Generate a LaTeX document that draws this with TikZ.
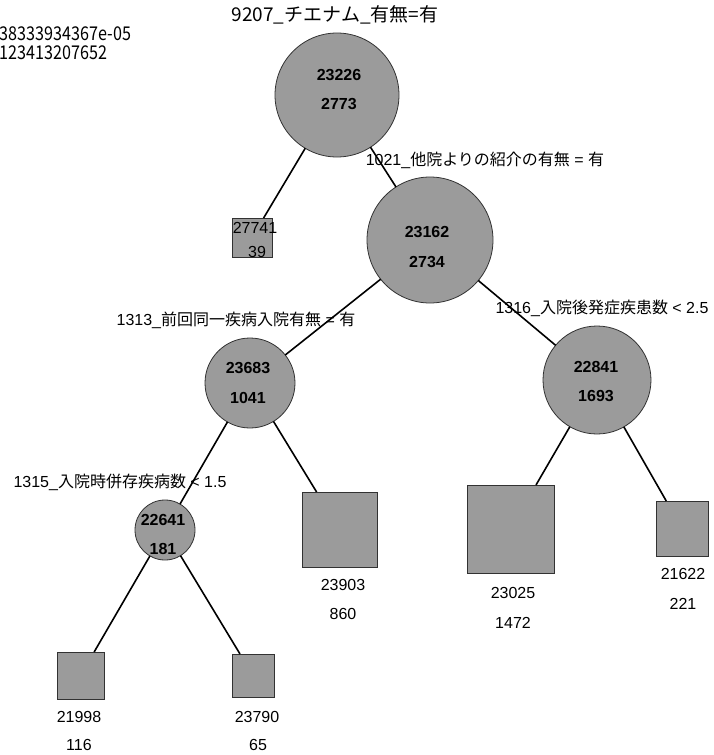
\documentclass[tikz,border=0pt]{standalone}
\usepackage{fontspec}
\setmainfont{Liberation Sans}
\newfontfamily\jp{Noto Sans CJK JP}
\definecolor{nodefill}{RGB}{155,155,155}
\definecolor{nodeline}{RGB}{50,50,50}
\begin{document}
\begin{tikzpicture}[x=1pt,y=-1pt,
  every node/.style={inner sep=0pt, outer sep=0pt},
  split/.style={circle, draw=nodeline, fill=nodefill, line width=0.8pt},
  leaf/.style={rectangle, draw=nodeline, fill=nodefill, line width=0.8pt},
  edge/.style={draw=black, line width=1.6pt},
  num/.style={font=\fontsize{16}{18}\selectfont\bfseries},
  txt/.style={font=\fontsize{16}{18}\selectfont},
  lbl/.style={font=\fontsize{16}{18}\selectfont},
  ttl/.style={font=\jp\fontsize{19}{21}\selectfont}]
\useasboundingbox (0,0) rectangle (714,755);

% split nodes
\node[split, minimum size=124pt] (root) at (337,95) {};
\node[split, minimum size=126pt] (n2) at (430,240) {};
\node[split, minimum size=90pt] (n3) at (250,383) {};
\node[split, minimum size=108pt] (n4) at (597,380) {};
\node[split, minimum size=60pt] (n5) at (165,530) {};

% leaves
\node[leaf, minimum width=40pt, minimum height=39pt] (la) at (252,237.5) {};
\node[leaf, minimum width=75pt, minimum height=75pt] (lb) at (339.5,529.5) {};
\node[leaf, minimum width=87pt, minimum height=88pt] (lc) at (510.5,529) {};
\node[leaf, minimum width=52pt, minimum height=55pt] (ld) at (682,528.5) {};
\node[leaf, minimum width=47pt, minimum height=47pt] (le) at (80.5,675.5) {};
\node[leaf, minimum width=42pt, minimum height=43pt] (lf) at (253,675.5) {};

% edges
\draw[edge] (root) -- (la);
\draw[edge] (root) -- (n2);
\draw[edge] (n2) -- (n3);
\draw[edge] (n2) -- (n4);
\draw[edge] (n3) -- (n5);
\draw[edge] (n3) -- (lb);
\draw[edge] (n4) -- (lc);
\draw[edge] (n4) -- (ld);
\draw[edge] (n5) -- (le);
\draw[edge] (n5) -- (lf);

% numbers in split nodes
\node[num] (rootA) at (339,75) {23226};
\node[num] (rootB) at (339,104) {2773};
\node[num] (n2A) at (427,232) {23162};
\node[num] (n2B) at (427,262) {2734};
\node[num] (n3A) at (248,368) {23683};
\node[num] (n3B) at (248,398) {1041};
\node[num] (n4A) at (596,367) {22841};
\node[num] (n4B) at (596,396) {1693};
\node[num] (n5A) at (163,520) {22641};
\node[num] (n5B) at (163,549) {181};

% leaf texts
\node[txt] (laA) at (255,228) {27741};
\node[txt] (laB) at (257,252) {39};
\node[txt] (lbA) at (343,585) {23903};
\node[txt] (lbB) at (343,614) {860};
\node[txt] (lcA) at (513,593) {23025};
\node[txt] (lcB) at (513,623) {1472};
\node[txt] (ldA) at (683,574) {21622};
\node[txt] (ldB) at (683,604) {221};
\node[txt] (leA) at (79,717) {21998};
\node[txt] (leB) at (79,745) {116};
\node[txt] (lfA) at (257,717) {23790};
\node[txt] (lfB) at (258,745) {65};

% split labels
\node[ttl] (title) at (335,15) {9207\_チエナム\_有無=有};
\node[lbl] (s2) at (485,160) {1021\_{\jp 他院よりの紹介の有無} = {\jp 有}};
\node[lbl] (s3) at (236,320) {1313\_{\jp 前回同一疾病入院有無} = {\jp 有}};
\node[lbl] (s4) at (602,308) {1316\_{\jp 入院後発症疾患数} < 2.5};
\node[lbl] (s5) at (120,482) {1315\_{\jp 入院時併存疾病数} < 1.5};

% top-left texts
\node[ttl, anchor=west] (m1) at (0,34) {\scalebox{0.85}[1]{38333934367e-05}};
\node[ttl, anchor=west] (m2) at (0,53) {\scalebox{0.85}[1]{123413207652}};
\end{tikzpicture}
\end{document}
